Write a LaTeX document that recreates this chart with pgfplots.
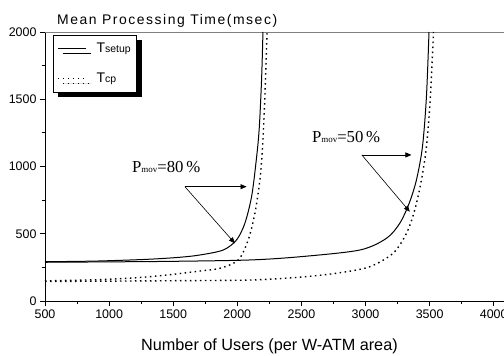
\documentclass[border=0pt]{standalone}
\usepackage{fontspec}
\setmainfont{Liberation Sans}
\newfontfamily\seriffont{Liberation Serif}
\newfontfamily\widesans[LetterSpace=11]{Liberation Sans}
\usepackage{pgfplots}
\pgfplotsset{compat=1.18}
\usetikzlibrary{shadows,arrows.meta}
\begin{document}
\begin{tikzpicture}
\begin{axis}[
  name=ax,
  scale only axis,
  width=459bp, height=269bp,
  xmin=500, xmax=4080, ymin=0, ymax=2000,
  axis x line*=bottom, axis y line*=left,
  axis line style={-, line width=0.8bp},
  xtick={500,1000,...,4000}, ytick={0,500,...,2000},
  minor x tick num=1, minor y tick num=1,
  tick align=outside,
  major tick length=5bp, minor tick length=3bp,
  tick style={black, line width=0.8bp},
  /pgf/number format/assume math mode=true,
  /pgf/number format/1000 sep={},
  ticklabel style={font=\fontsize{12.5}{14}\selectfont},
  xlabel={Number of Users (per W-ATM area)},
  xlabel style={font=\fontsize{16.3}{18}\selectfont, at={(axis description cs:0.489,0)}, anchor=base, yshift=-49bp},
  clip=false,
  legend style={at={(axis description cs:0.0174,0.989)}, anchor=north west, draw=black, fill=white,
    drop shadow={shadow xshift=5bp, shadow yshift=-5bp, fill=black, opacity=1},
    font=\fontsize{14}{16}\selectfont, row sep=15bp, inner xsep=4bp, inner ysep=6bp},
  legend cell align=left,
  legend image code/.code={\draw[#1] (3bp,0bp) -- (31bp,0bp);},
]
\draw[gray, line width=0.8bp] (rel axis cs:0,1) -- (rel axis cs:1,1);
% P_mov = 80%
\addplot[black, line width=1bp, smooth, tension=0.5] coordinates {
(500,292) (900,297) (1300,310) (1550,325) (1708,342) (1890,379) (1994,454) (2059,578) (2111,775) (2145,1024) (2170,1271) (2189,1643) (2200,2000)};
\addlegendentry{\hspace{8bp}T{\fontsize{10.5}{11}\selectfont setup}}
\addplot[black, line width=1.4bp, dash pattern=on 1.5bp off 3.5bp, smooth, tension=0.5] coordinates {
(500,150) (900,158) (1200,172) (1451,193) (1700,222) (1864,243) (2007,305) (2085,454) (2137,652) (2176,900) (2197,1147) (2215,1519) (2232,2000)};
\addlegendentry{\hspace{8bp}T{\fontsize{10.5}{11}\selectfont cp}}
% P_mov = 50%
\addplot[black, line width=1bp, smooth, tension=0.5, forget plot] coordinates {
(500,288) (1000,291) (1500,295) (2098,305) (2500,330) (2955,379) (3163,466) (3267,578) (3340,726) (3397,900) (3444,1147) (3475,1519) (3495,2000)};
\addplot[black, line width=1.4bp, dash pattern=on 1.5bp off 3.5bp, smooth, tension=0.5, forget plot] coordinates {
(500,145) (1000,148) (1500,151) (2098,156) (2500,178) (2800,210) (3033,255) (3215,355) (3319,503) (3384,677) (3436,900) (3475,1147) (3506,1519) (3530,2000)};
% annotations
\node[anchor=base west, font=\seriffont\fontsize{16.8}{18}\selectfont, inner sep=0pt] at (axis cs:1178,959) {P{\fontsize{9}{9}\selectfont mov}=80\,\%};
\draw[line width=0.6bp, -{Triangle[length=6bp,width=5bp]}] (axis cs:1591,850) -- (axis cs:2072,850);
\draw[line width=0.6bp, -{Triangle[length=6bp,width=5bp]}] (axis cs:1591,850) -- (axis cs:1981,429);
\node[anchor=base west, font=\seriffont\fontsize{16.8}{18}\selectfont, inner sep=0pt] at (axis cs:2581,1175) {P{\fontsize{9}{9}\selectfont mov}=50\,\%};
\draw[line width=0.6bp, -{Triangle[length=6bp,width=5bp]}] (axis cs:2971,1086) -- (axis cs:3358,1086);
\draw[line width=0.6bp, -{Triangle[length=6bp,width=5bp]}] (axis cs:2971,1086) -- (axis cs:3345,664);
% title
\node[anchor=base west, font=\widesans\fontsize{14}{16}\selectfont, inner sep=0pt, xshift=12bp, yshift=7bp] at (rel axis cs:0,1) {Mean Processing Time(msec)};
\end{axis}
\pgfresetboundingbox
\path[use as bounding box] ([shift={(-45bp,-55bp)}]ax.south west) rectangle ([shift={(0bp,32bp)}]ax.north east);
\end{tikzpicture}
\end{document}
